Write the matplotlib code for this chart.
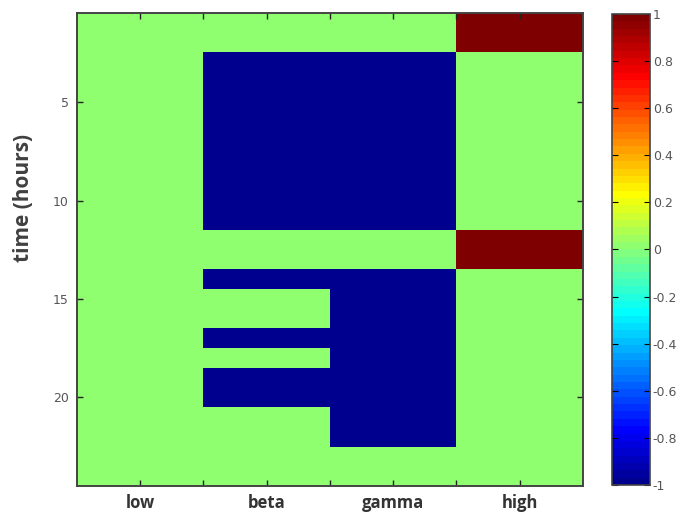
import numpy as np
import matplotlib.pyplot as plt
from matplotlib.colors import ListedColormap

bands = ["low", "beta", "gamma", "high"]
hours = list(range(1, 25))

# state per hour for each band (-1, 0, +1)
low   = [0, 0, 0, 0, 0, 0, 0, 0, 0, 0, 0, 0, 0, 0, 0, 0, 0, 0, 0, 0, 0, 0, 0, 0]
beta  = [0, 0, -1, -1, -1, -1, -1, -1, -1, -1, -1, 0, 0, -1, 0, 0, -1, 0, -1, -1, 0, 0, 0, 0]
gamma = [0, 0, -1, -1, -1, -1, -1, -1, -1, -1, -1, 0, 0, -1, -1, -1, -1, -1, -1, -1, -1, -1, 0, 0]
high  = [1, 1, 0, 0, 0, 0, 0, 0, 0, 0, 0, 1, 1, 0, 0, 0, 0, 0, 0, 0, 0, 0, 0, 0]

grid = np.array([low, beta, gamma, high]).T

# 64-step jet, same formula as the classic MATLAB map
t = np.arange(1, 65) / 64.0
r = np.clip(1.5 - np.abs(4 * t - 3), 0, 1)
g = np.clip(1.5 - np.abs(4 * t - 2), 0, 1)
b = np.clip(1.5 - np.abs(4 * t - 1), 0, 1)
jet64 = ListedColormap(np.column_stack([r, g, b]))

fig = plt.figure(figsize=(6.79, 5.16), dpi=100)
ax = fig.add_axes([0.1134, 0.058, 0.745, 0.916])
cax = fig.add_axes([0.9013, 0.060, 0.056, 0.913])

im = ax.imshow(grid, cmap=jet64, vmin=-1, vmax=1, aspect="auto",
               interpolation="nearest",
               extent=(0.5, len(bands) + 0.5, len(hours) + 0.5, 0.5))

ax.set_xticks([1, 1.5, 2, 2.5, 3, 3.5, 4])
ax.set_xticklabels(["low", "", "beta", "", "gamma", "", "high"],
                   fontsize=12, fontweight="bold", color="#333333",
                   family="Open Sans")
ax.set_yticks([5, 10, 15, 20])
ax.set_yticklabels(["5", "10", "15", "20"], fontsize=9, color="#555555")
ax.tick_params(direction="in", top=True, right=True, length=4, width=1,
               color="#222222", pad=6)
ax.set_ylabel("time (hours)", fontsize=15, fontweight="bold",
              color="#404040", family="Open Sans")
ax.yaxis.set_label_coords(-0.085, 0.61)
for s in ax.spines.values():
    s.set_linewidth(1.4)
    s.set_color("#444444")

cb = fig.colorbar(im, cax=cax)
cb.set_ticks(np.round(np.arange(-1, 1.01, 0.2), 1))
cb.set_ticklabels(["-1", "-0.8", "-0.6", "-0.4", "-0.2", "0",
                   "0.2", "0.4", "0.6", "0.8", "1"])
cax.tick_params(direction="in", left=True, right=True, length=4,
                labelsize=9, labelcolor="#555555", pad=2)
cb.outline.set_linewidth(1.2)
cb.outline.set_edgecolor("#444444")

fig.savefig("out.png", dpi=100)
